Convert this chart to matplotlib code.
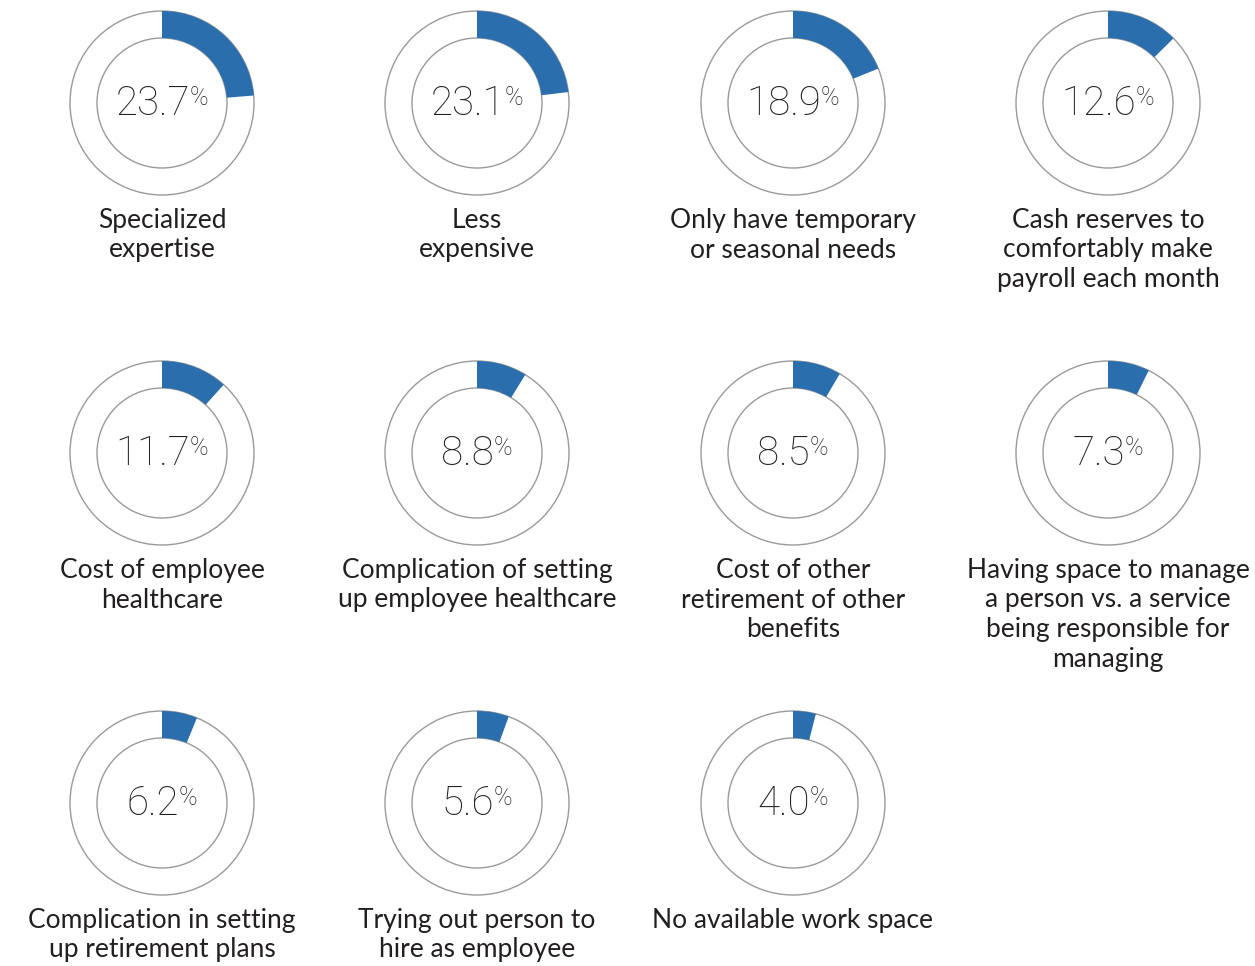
import matplotlib.pyplot as plt
from matplotlib.patches import Circle

# data
values = [23.7, 23.1, 18.9, 12.6, 11.7, 8.8, 8.5, 7.3, 6.2, 5.6, 4.0]
labels = [
    "Specialized\nexpertise",
    "Less\nexpensive",
    "Only have temporary\nor seasonal needs",
    "Cash reserves to\ncomfortably make\npayroll each month",
    "Cost of employee\nhealthcare",
    "Complication of setting\nup employee healthcare",
    "Cost of other\nretirement of other\nbenefits",
    "Having space to manage\na person vs. a service\nbeing responsible for\nmanaging",
    "Complication in setting\nup retirement plans",
    "Trying out person to\nhire as employee",
    "No available work space",
]

W, H = 1255, 966
col_x = [162, 477, 793, 1108]
row_y = [103, 453, 803]
r_out, r_in = 92, 65
blue = '#2a6ead'
grey = '#9a9a9a'
txt = '#231f20'

fig = plt.figure(figsize=(W / 100, H / 100), dpi=100)
ax = fig.add_axes([0, 0, 1, 1])

for i, (v, lab) in enumerate(zip(values, labels)):
    cx = col_x[i % 4]
    cy = H - row_y[i // 4]

    # outlines
    ax.add_patch(Circle((cx, cy), r_out, fill=False, ec=grey, lw=1.0, zorder=1))
    ax.add_patch(Circle((cx, cy), r_in, fill=False, ec=grey, lw=1.0, zorder=1))

    # blue share
    wedges, _ = ax.pie([v, 100 - v], colors=[blue, 'none'], startangle=90,
                       counterclock=False, center=(cx, cy), radius=r_out,
                       wedgeprops=dict(width=r_out - r_in, linewidth=0),
                       frame=True)
    for w in wedges:
        w.set_zorder(2)

    # percentage text
    num = ax.text(0, 0, f"{v:.1f}", fontsize=29, family='Roboto', weight='light',
                  color=txt, ha='left', va='baseline')
    pct = ax.text(0, 0, "%", fontsize=18, family='Roboto', weight='light',
                  color=txt, ha='left', va='baseline')
    r = fig.canvas.get_renderer()
    wn = num.get_window_extent(r).width
    wp = pct.get_window_extent(r).width
    x0 = cx - (wn + wp) / 2
    num.set_position((x0, cy - 12))
    pct.set_position((x0 + wn, cy - 2))

    # label lines
    for j, line in enumerate(lab.split("\n")):
        ax.text(cx, cy - 125 - j * 29.5, line, fontsize=19, family='Lato',
                color=txt, ha='center', va='baseline')

ax.set_xlim(0, W)
ax.set_ylim(0, H)
ax.set_aspect('equal')
ax.axis('off')

fig.savefig('out.png', dpi=100)
